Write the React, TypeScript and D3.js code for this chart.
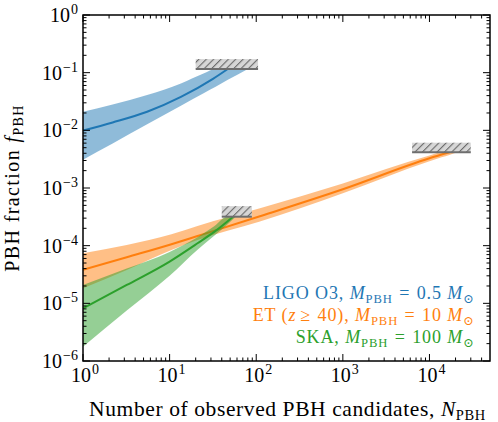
import * as d3 from "d3";

// LIGO O3, M = 0.5 Msun
const ligoLineN = [1, 2.2, 5.5, 13.5, 32, 47];
const ligoLineF = [0.0099, 0.0137, 0.021, 0.038, 0.079, 0.116];
const ligoBandN = [1, 2.2, 5.5, 13.5, 25, 34, 47, 80];
const ligoBandLo = [0.0031, 0.0059, 0.0127, 0.0267, 0.0445, 0.057, 0.075, 0.116];
const ligoBandHi = [0.021, 0.028, 0.041, 0.065, 0.098, 0.116, 0.116, 0.116];

// ET (z >= 40), M = 10 Msun
const etLineN = [1, 3.2, 10.5, 21, 108, 1000, 10000, 17000];
const etLineF = [3.8e-5, 6.3e-5, 1.06e-4, 1.47e-4, 3.2e-4, 9.5e-4, 3.27e-3, 4.16e-3];
const etBandN = [1, 3.2, 10.5, 21, 108, 1000, 10000, 13800, 17000, 21000];
const etBandLo = [1.82e-5, 3.8e-5, 8.4e-5, 1.25e-4, 2.6e-4, 8.1e-4, 2.9e-3, 3.4e-3, 3.75e-3, 4.16e-3];
const etBandHi = [7.4e-5, 1.03e-4, 1.57e-4, 2.2e-4, 4.4e-4, 1.2e-3, 3.65e-3, 4.16e-3, 4.16e-3, 4.16e-3];

// SKA, M = 100 Msun
const skaLineN = [1, 3.2, 10, 21, 33, 54];
const skaLineF = [8.2e-6, 2.08e-5, 5.3e-5, 1.1e-4, 1.75e-4, 3.18e-4];
const skaBandN = [1, 3.2, 10, 21, 33, 46, 58];
const skaBandLo = [1.77e-6, 7.5e-6, 3.0e-5, 8.5e-5, 1.5e-4, 2.3e-4, 3.18e-4];
const skaBandHi = [2.08e-5, 4.0e-5, 7.8e-5, 1.4e-4, 2.2e-4, 3.18e-4, 3.18e-4];

// hatched limit boxes: [N0, N1] x [fLo, fHi]
const boxN0 = [20, 6300, 40];
const boxN1 = [105, 30000, 89];
const boxLo = [0.116, 4.16e-3, 3.18e-4];
const boxHi = [0.172, 6.1e-3, 4.85e-4];

const xTickExp = [0, 1, 2, 3, 4];
const yTickExp = [0, -1, -2, -3, -4, -5, -6];

const BLUE = "#1f77b4";
const ORANGE = "#ff7f0e";
const GREEN = "#2ca02c";
const FONT = "'Liberation Serif', 'DejaVu Serif', serif";

const W = 498;
const H = 422;
const x = d3.scaleLog().domain([1, 5e4]).range([83, 490]);
const y = d3.scaleLog().domain([1e-6, 1]).range([361, 15]);

type Pt = { n: number; v: number };
type Band = { n: number; lo: number; hi: number };

const zip = (ns: number[], vs: number[]): Pt[] => ns.map((n, i) => ({ n, v: vs[i] }));
const zipBand = (ns: number[], lo: number[], hi: number[]): Band[] =>
  ns.map((n, i) => ({ n, lo: lo[i], hi: hi[i] }));

const line = d3
  .line<Pt>()
  .x((d) => x(d.n))
  .y((d) => y(d.v))
  .curve(d3.curveMonotoneX);

const area = d3
  .area<Band>()
  .x((d) => x(d.n))
  .y0((d) => y(d.lo))
  .y1((d) => y(d.hi))
  .curve(d3.curveMonotoneX);

const series = [
  { color: BLUE, band: zipBand(ligoBandN, ligoBandLo, ligoBandHi), line: zip(ligoLineN, ligoLineF) },
  { color: ORANGE, band: zipBand(etBandN, etBandLo, etBandHi), line: zip(etLineN, etLineF) },
  { color: GREEN, band: zipBand(skaBandN, skaBandLo, skaBandHi), line: zip(skaLineN, skaLineF) },
];

function minorTicks(lo: number, hi: number, max: number) {
  const out: number[] = [];
  for (let e = lo; e < hi; e++) {
    for (let k = 2; k <= 9; k++) {
      const v = k * Math.pow(10, e);
      if (v < max) out.push(v);
    }
  }
  return out;
}

// italic M with a small upright subscript, like mathtext's M_{\rm PBH}
function Msub({ sub }: { sub: string }) {
  return (
    <>
      <tspan fontStyle="italic">M</tspan>
      <tspan fontSize="0.7em" dy={3.5}>
        {sub}
      </tspan>
      <tspan dy={-3.5}>{"\u200a"}</tspan>
    </>
  );
}

// relation sign with the wider math spacing
const Rel = ({ s }: { s: string }) => (
  <tspan dx={4}>
    {s}
    <tspan dx={4}>{"\u200a"}</tspan>
  </tspan>
);

function Pow({ e }: { e: number }) {
  return (
    <>
      10
      <tspan fontSize={14} dy={-8} dx={1}>
        {e < 0 ? `\u2212${-e}` : `${e}`}
      </tspan>
    </>
  );
}

export default function App() {
  const [x0, x1] = x.range();
  const [y0, y1] = y.range();
  const xMinor = minorTicks(0, 5, 5e4);
  const yMinor = minorTicks(-6, 0, 1);

  return (
    <svg
      width={W}
      height={H}
      style={{ position: "absolute", left: 0, top: 0, background: "#fff" }}
      fontFamily={FONT}
    >
      <defs>
        <pattern
          id="hatch"
          patternUnits="userSpaceOnUse"
          width={5.2}
          height={5.2}
          patternTransform="rotate(45)"
        >
          <rect width={5.2} height={5.2} fill="#d6d6d6" />
          <line x1={0} y1={0} x2={0} y2={5.2} stroke="#6a6a6a" strokeWidth={2.2} />
        </pattern>
        <clipPath id="plot">
          <rect x={x0} y={y1} width={x1 - x0} height={y0 - y1} />
        </clipPath>
      </defs>

      <g clipPath="url(#plot)">
        {series.map((s, i) => (
          <g key={i}>
            <path d={area(s.band) ?? ""} fill={s.color} fillOpacity={0.5} />
            <path d={line(s.line) ?? ""} fill="none" stroke={s.color} strokeWidth={2} />
          </g>
        ))}

        {boxN0.map((n0, i) => (
          <g key={i}>
            <rect
              x={x(n0)}
              y={y(boxHi[i])}
              width={x(boxN1[i]) - x(n0)}
              height={y(boxLo[i]) - y(boxHi[i])}
              fill="url(#hatch)"
            />
            <line
              x1={x(n0)}
              x2={x(boxN1[i])}
              y1={y(boxLo[i])}
              y2={y(boxLo[i])}
              stroke="#6e6e6e"
              strokeWidth={2}
            />
          </g>
        ))}
      </g>

      {/* ticks, pointing inward on all four sides */}
      <g stroke="#000" strokeWidth={1}>
        {xTickExp.map((e) => {
          const px = x(Math.pow(10, e));
          return (
            <g key={e}>
              <line x1={px} x2={px} y1={y0} y2={y0 - 7} />
              <line x1={px} x2={px} y1={y1} y2={y1 + 7} />
            </g>
          );
        })}
        {xMinor.map((v) => (
          <g key={v}>
            <line x1={x(v)} x2={x(v)} y1={y0} y2={y0 - 3.5} />
            <line x1={x(v)} x2={x(v)} y1={y1} y2={y1 + 3.5} />
          </g>
        ))}
        {yTickExp.map((e) => {
          const py = y(Math.pow(10, e));
          return (
            <g key={e}>
              <line x1={x0} x2={x0 + 7} y1={py} y2={py} />
              <line x1={x1} x2={x1 - 7} y1={py} y2={py} />
            </g>
          );
        })}
        {yMinor.map((v) => (
          <g key={v}>
            <line x1={x0} x2={x0 + 3.5} y1={y(v)} y2={y(v)} />
            <line x1={x1} x2={x1 - 3.5} y1={y(v)} y2={y(v)} />
          </g>
        ))}
      </g>

      <rect
        x={x0}
        y={y1}
        width={x1 - x0}
        height={y0 - y1}
        fill="none"
        stroke="#000"
        strokeWidth={1.5}
      />

      {/* tick labels */}
      <g fontSize={20} fill="#000">
        {xTickExp.map((e) => (
          <text key={e} x={x(Math.pow(10, e)) + 2} y={382} textAnchor="middle">
            <Pow e={e} />
          </text>
        ))}
        {yTickExp.map((e) => (
          <text key={e} x={78} y={y(Math.pow(10, e)) + 7} textAnchor="end">
            <Pow e={e} />
          </text>
        ))}
      </g>

      {/* axis titles */}
      <text
        x={(x0 + x1) / 2 + 1}
        y={416}
        textAnchor="middle"
        fontSize={21.5}
        letterSpacing={0.6}
      >
        Number of observed PBH candidates,{" "}
        <tspan fontStyle="italic">N</tspan>
        <tspan fontSize={14.5} dy={3.5}>
          PBH
        </tspan>
      </text>
      <text
        transform={`translate(19, ${(y0 + y1) / 2}) rotate(-90)`}
        textAnchor="middle"
        fontSize={20}
        letterSpacing={1.4}
      >
        PBH fraction <tspan fontStyle="italic">f</tspan>
        <tspan fontSize={14} dy={3.5}>
          PBH
        </tspan>
      </text>

      {/* legend */}
      <g fontSize={18} textAnchor="end" letterSpacing={0.9}>
        <text x={477} y={299} fill={BLUE}>
          LIGO O3, <Msub sub="PBH" />
          <Rel s="=" />
          0.5 <Msub sub={"\u2299"} />
        </text>
        <text x={477} y={321} fill={ORANGE}>
          ET (<tspan fontStyle="italic">z</tspan>
          <Rel s="≥" />
          40), <Msub sub="PBH" />
          <Rel s="=" />
          10 <Msub sub={"\u2299"} />
        </text>
        <text x={477} y={343} fill={GREEN}>
          SKA, <Msub sub="PBH" />
          <Rel s="=" />
          100 <Msub sub={"\u2299"} />
        </text>
      </g>
    </svg>
  );
}
